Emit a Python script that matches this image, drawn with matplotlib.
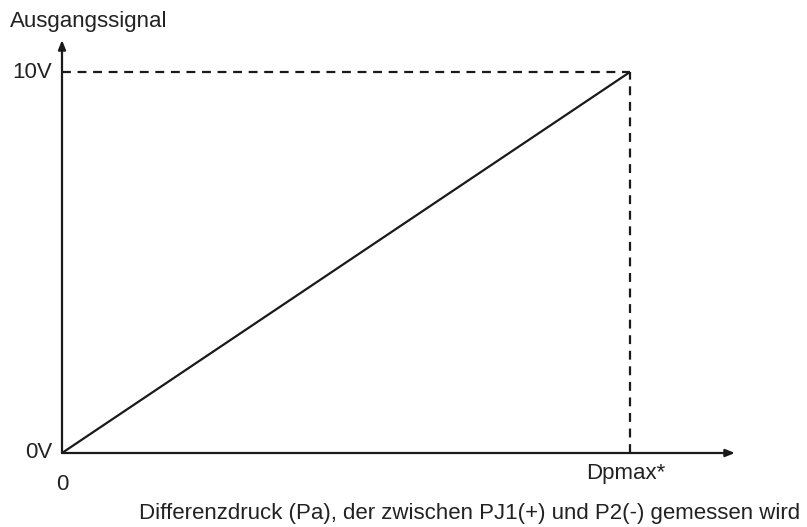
import matplotlib
matplotlib.use("Agg")
from matplotlib import pyplot as plt

plt.rcParams['font.family'] = ['Liberation Sans', 'DejaVu Sans']

# Kennlinie: Differenzdruck (relativ zu Dpmax) -> Ausgangssignal in V
dp = [0.0, 1.0]
signal = [0.0, 10.0]
y_ticks = ["0V", "10V"]
x_labels = ["0", "Dpmax*"]

W, H = 807, 527
fig = plt.figure(figsize=(W / 100, H / 100), dpi=100)

# Ursprung bei (62, 453) px, Dpmax bei x=630 px, 10V bei y=72 px
x0_px, y0_px = 62, 453
x_end_px, y_end_px = 735, 40
sx = (630 - x0_px) / dp[1]
sy = (y0_px - 72) / signal[1]

ax = fig.add_axes([x0_px / W, (H - y0_px) / H,
                   (x_end_px - x0_px) / W, (y0_px - y_end_px) / H])
ax.set_xlim(0, (x_end_px - x0_px) / sx)
ax.set_ylim(0, (y0_px - y_end_px) / sy)
ax.axis("off")

col = "#1a1a1a"
txt = "#222222"
lw = 1.6
ax.plot(dp, signal, color=col, lw=lw, solid_capstyle="butt")

# gestrichelte Hilfslinien
ax.plot([0, dp[1]], [signal[1], signal[1]], color=col, lw=lw,
        ls=(0, (4, 3)))
ax.plot([dp[1], dp[1]], [0, signal[1]], color=col, lw=lw,
        ls=(0, (4, 3)))

# Achsen mit Pfeilen
xmax = ax.get_xlim()[1]
ymax = ax.get_ylim()[1]
arrow = dict(arrowstyle="-|>,head_length=0.55,head_width=0.22", color=col,
             lw=lw, shrinkA=0, shrinkB=0)
ax.annotate("", xy=(xmax, 0), xytext=(0, 0), arrowprops=arrow,
            annotation_clip=False)
ax.annotate("", xy=(0, ymax), xytext=(0, 0), arrowprops=arrow,
            annotation_clip=False)

fs = 16
dx = 10 / sx
ax.text(-dx, signal[0], y_ticks[0], ha="right", va="center", fontsize=fs,
        color=txt)
ax.text(-dx, signal[1], y_ticks[1], ha="right", va="center", fontsize=fs,
        color=txt)
ax.text(dp[0], -0.55, x_labels[0], ha="center", va="top", fontsize=fs,
        color=txt)
ax.text(dp[1] - 0.008, -0.25, x_labels[1], ha="center", va="top",
        fontsize=fs, color=txt)

fig.text(10 / W, 1 - 22 / H, "Ausgangssignal", ha="left", va="center",
         fontsize=fs, color=txt)
fig.text(800 / W, 1 - 513 / H,
         "Differenzdruck (Pa), der zwischen PJ1(+) und P2(-) gemessen wird",
         ha="right", va="center", fontsize=fs, color=txt)

fig.savefig("out.png", dpi=100)
